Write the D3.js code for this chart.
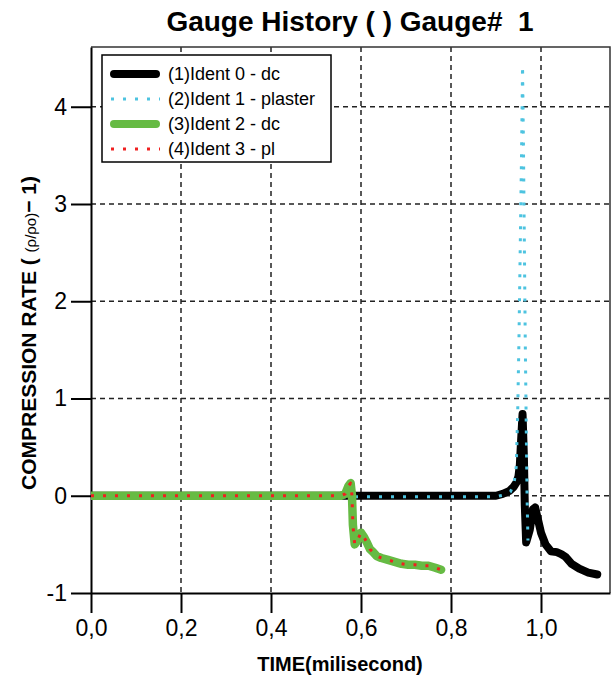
<html>
<head>
<meta charset="utf-8">
<script src="https://d3js.org/d3.v7.min.js"></script>
<style>
  body { margin: 0; background: #fff; }
  text { font-family: "Liberation Sans", Arial, sans-serif; }
</style>
</head>
<body>
<svg id="chart"></svg>
<script>
// ---- data ----
var xTicks = [0, 0.2, 0.4, 0.6, 0.8, 1.0];
var yTicks = [-1, 0, 1, 2, 3, 4];

var seriesNames = ["(1)Ident 0 - dc", "(2)Ident 1 - plaster", "(3)Ident 2 - dc", "(4)Ident 3 - pl"];

// (1) black
var blackT = [0, 0.58, 0.90, 0.915, 0.930, 0.939, 0.946, 0.950, 0.953, 0.955, 0.959, 0.962, 0.964, 0.967, 0.975, 0.982, 0.987, 0.992, 1.000, 1.010, 1.022, 1.035, 1.045, 1.055, 1.068, 1.085, 1.105, 1.125];
var blackV = [0, 0, 0, 0.02, 0.05, 0.09, 0.14, 0.20, 0.32, 0.50, 0.84, 0.40, -0.10, -0.48, -0.35, -0.14, -0.12, -0.22, -0.38, -0.50, -0.57, -0.58, -0.60, -0.63, -0.70, -0.75, -0.79, -0.81];

// (2) cyan, dotted
var cyanT = [0, 0.90, 0.92, 0.932, 0.940, 0.945, 0.948, 0.951, 0.954, 0.957, 0.959, 0.961, 0.963, 0.965, 0.967, 0.969, 0.971];
var cyanV = [-0.01, -0.01, 0.01, 0.04, 0.12, 0.30, 0.80, 1.60, 2.60, 3.60, 4.42, 3.60, 2.60, 1.60, 0.80, 0.0, -0.46];

// (3) green
var greenT = [0, 0.555, 0.565, 0.572, 0.577, 0.580, 0.582, 0.586, 0.592, 0.600, 0.606, 0.613, 0.620, 0.627, 0.635, 0.645, 0.660, 0.675, 0.690, 0.705, 0.720, 0.735, 0.750, 0.765, 0.778];
var greenV = [0, 0, 0.02, 0.10, 0.13, 0.0, -0.30, -0.50, -0.46, -0.38, -0.42, -0.48, -0.55, -0.58, -0.62, -0.64, -0.66, -0.68, -0.70, -0.71, -0.71, -0.72, -0.72, -0.74, -0.76];

// (4) red, dotted
var redT = [0, 0.555, 0.565, 0.572, 0.577, 0.580, 0.582, 0.586, 0.592, 0.600, 0.606, 0.613, 0.620, 0.627, 0.635, 0.645, 0.660, 0.675, 0.690, 0.705, 0.720, 0.735, 0.750, 0.765, 0.778];
var redV = [0, 0, 0.02, 0.10, 0.13, 0.0, -0.30, -0.50, -0.46, -0.38, -0.42, -0.48, -0.55, -0.58, -0.62, -0.64, -0.66, -0.68, -0.70, -0.71, -0.71, -0.72, -0.72, -0.74, -0.76];

// ---- canvas ----
var W = 612, H = 679;
var pL = 91, pR = 610, pT = 47, pB = 593;
var svg = d3.select("#chart").attr("width", W).attr("height", H);

var x = d3.scaleLinear().domain([0, (pR - pL) / 450]).range([pL, pR]);
var y = d3.scaleLinear().domain([-1, -1 + (pB - pT) / 97.25]).range([pB, pT]);

// grid
svg.append("g").selectAll("line").data(xTicks.filter(function(d){ return d > 0; }))
  .enter().append("line")
  .attr("x1", function(d){ return x(d); }).attr("x2", function(d){ return x(d); })
  .attr("y1", pT).attr("y2", pB)
  .attr("stroke", "#222").attr("stroke-width", 1.5).attr("stroke-dasharray", "5,4");
svg.append("g").selectAll("line").data(yTicks.filter(function(d){ return d > -1; }))
  .enter().append("line")
  .attr("x1", pL).attr("x2", pR)
  .attr("y1", function(d){ return y(d); }).attr("y2", function(d){ return y(d); })
  .attr("stroke", "#222").attr("stroke-width", 1.5).attr("stroke-dasharray", "5,4");

// frame top/right
svg.append("path")
  .attr("d", "M" + pL + "," + pT + "H" + pR + "V" + pB)
  .attr("fill", "none").attr("stroke", "#333").attr("stroke-width", 1.5);

// axes
var xAxis = d3.axisBottom(x).tickValues(xTicks).tickSize(20).tickSizeOuter(0)
  .tickFormat(function(d){ return d3.format(".1f")(d).replace(".", ","); });
var gx = svg.append("g").attr("transform", "translate(0," + pB + ")").call(xAxis);
var yAxis = d3.axisLeft(y).tickValues(yTicks).tickSize(20).tickSizeOuter(0)
  .tickFormat(d3.format("d"));
var gy = svg.append("g").attr("transform", "translate(" + pL + ",0)").call(yAxis);

[gx, gy].forEach(function(g){
  g.select(".domain").attr("stroke", "#000").attr("stroke-width", 2);
  g.selectAll(".tick line").attr("stroke", "#000").attr("stroke-width", 2);
  g.selectAll(".tick text").attr("fill", "#000").style("font-size", "23px")
    .style("font-family", "'Liberation Sans', Arial, sans-serif");
});
gx.selectAll(".tick text").attr("y", 27).attr("dy", "0.71em");
gy.selectAll(".tick text").attr("x", -24).text(function(d){ return d < 0 ? "-" + Math.abs(d) : d; });

// data lines
svg.append("clipPath").attr("id", "clip").append("rect")
  .attr("x", pL).attr("y", pT).attr("width", pR - pL).attr("height", pB - pT);

var line = d3.line().x(function(d){ return x(d[0]); }).y(function(d){ return y(d[1]); });
function pairs(t, v){ return t.map(function(d, i){ return [d, v[i]]; }); }

var styles = [
  { t: blackT, v: blackV, color: "#000000", width: 8, dash: null },
  { t: cyanT,  v: cyanV,  color: "#4dc3e0", width: 3, dash: "3,9" },
  { t: greenT, v: greenV, color: "#66bb44", width: 8.5, dash: null },
  { t: redT,   v: redV,   color: "#f02020", width: 3, dash: "3,9" }
];

var plot = svg.append("g").attr("clip-path", "url(#clip)");
styles.forEach(function(s){
  plot.append("path")
    .attr("d", line(pairs(s.t, s.v)))
    .attr("fill", "none")
    .attr("stroke", s.color)
    .attr("stroke-width", s.width)
    .attr("stroke-linejoin", "round")
    .attr("stroke-linecap", s.dash ? "butt" : "round")
    .attr("stroke-dasharray", s.dash);
});

// legend
var lg = svg.append("g");
lg.append("rect").attr("x", 102).attr("y", 55).attr("width", 229).attr("height", 107)
  .attr("fill", "#fff").attr("stroke", "#000").attr("stroke-width", 1.5);
seriesNames.forEach(function(name, i){
  var yy = 74 + i * 25;
  var s = styles[i];
  lg.append("line").attr("x1", s.dash ? 111 : 114).attr("x2", s.dash ? 160 : 156)
    .attr("y1", yy).attr("y2", yy)
    .attr("stroke", s.color).attr("stroke-width", s.dash ? 3 : 8)
    .attr("stroke-linecap", s.dash ? "butt" : "round")
    .attr("stroke-dasharray", s.dash);
  lg.append("text").attr("x", 168).attr("y", yy).attr("dy", "0.35em")
    .style("font-size", "18px").text(name);
});

// titles
svg.append("text").attr("x", 350).attr("y", 31).attr("text-anchor", "middle")
  .style("font-size", "28px").style("font-weight", "bold").style("white-space", "pre")
  .text("Gauge History ( ) Gauge#  1");

svg.append("text").attr("x", 340).attr("y", 671).attr("text-anchor", "middle")
  .style("font-size", "20px").style("font-weight", "bold")
  .text("TIME(milisecond)");

var yt = svg.append("text").attr("transform", "translate(36,490) rotate(-90)")
  .attr("text-anchor", "start").style("font-size", "21px").style("font-weight", "bold");
yt.append("tspan").text("COMPRESSION RATE ( ");
yt.append("tspan").style("font-size", "15px").style("font-weight", "normal").text("(ρ/ρo)");
yt.append("tspan").text("− 1)");
</script>
</body>
</html>
